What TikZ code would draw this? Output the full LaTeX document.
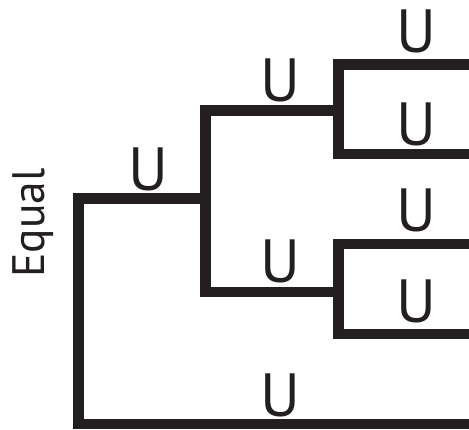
\documentclass[tikz,border=0pt]{standalone}
\usepackage{fontspec}
\setmainfont{PT Sans}
\definecolor{ink}{HTML}{231F20}
\begin{document}
\begin{tikzpicture}[x=1pt,y=-1pt,
  branch/.style={draw=ink,line width=10.5pt,line join=miter},
  ulabel/.style={text=ink,inner sep=0pt,anchor=base,font=\fontsize{61}{61}\selectfont},
  axislabel/.style={text=ink,inner sep=0pt,anchor=base,rotate=90,font=\fontsize{45.5}{45.5}\selectfont}]
\useasboundingbox (0,0) rectangle (469,429);
% junction coordinates
\coordinate (rootTop) at (78.5,198.5);
\coordinate (rootBot) at (78.5,424);
\coordinate (aMid) at (205.5,198.5);
\coordinate (aTop) at (205.5,110.5);
\coordinate (aBot) at (205.5,292);
\coordinate (bTop) at (338.5,64.5);
\coordinate (bMid) at (338.5,110.5);
\coordinate (bBot) at (338.5,154);
\coordinate (cTop) at (338.5,244);
\coordinate (cMid) at (338.5,292);
\coordinate (cBot) at (338.5,334);
\coordinate (leaf1) at (469,64.5);
\coordinate (leaf2) at (469,154);
\coordinate (leaf3) at (469,244);
\coordinate (leaf4) at (469,334);
\coordinate (leaf5) at (469,424);
% branches
\draw[branch] (leaf5) -- (rootBot) -- (rootTop) -- (aMid);
\draw[branch] (bMid) -- (aTop) -- (aBot) -- (cMid);
\draw[branch] (leaf1) -- (bTop) -- (bBot) -- (leaf2);
\draw[branch] (leaf3) -- (cTop) -- (cBot) -- (leaf4);
% labels
\node[ulabel] (u1) at (416,52.5) {U};
\node[ulabel] (u2) at (416,145.5) {U};
\node[ulabel] (u3) at (416,231.5) {U};
\node[ulabel] (u4) at (416,322.5) {U};
\node[ulabel] (u5) at (280.5,101.5) {U};
\node[ulabel] (u6) at (280.5,282.5) {U};
\node[ulabel] (u7) at (280.5,416.5) {U};
\node[ulabel] (u8) at (148.5,190.5) {U};
\node[axislabel] (equal) at (45,223) {Equal};
\end{tikzpicture}
\end{document}
